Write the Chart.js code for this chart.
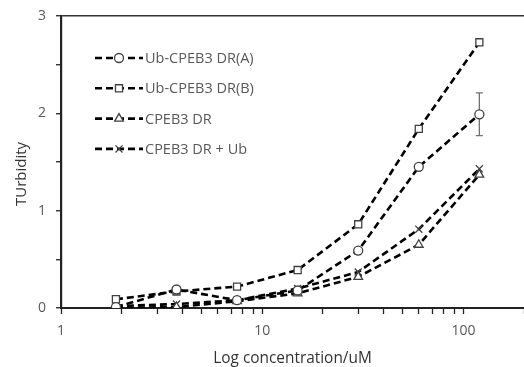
<!DOCTYPE html>
<html>
<head>
<meta charset="utf-8">
<script src="https://cdn.jsdelivr.net/npm/chart.js"></script>
<style>
  html, body { margin: 0; padding: 0; background: #fff; }
  canvas { display: block; }
</style>
</head>
<body>
<canvas id="turbidity" width="524" height="367"></canvas>
<script>
const concentrations = [1.875, 3.75, 7.5, 15, 30, 60, 120];
const seriesLabels = ["Ub-CPEB3 DR(A)", "Ub-CPEB3 DR(B)", "CPEB3 DR", "CPEB3 DR + Ub"];
const ubDrA = [0.01, 0.19, 0.08, 0.18, 0.59, 1.45, 1.99];
const ubDrB = [0.09, 0.17, 0.22, 0.39, 0.86, 1.84, 2.73];
const drOnly = [0.0, 0.01, 0.07, 0.15, 0.32, 0.65, 1.37];
const drPlusUb = [0.02, 0.04, 0.08, 0.2, 0.37, 0.81, 1.43];
const ubDrAError = [null, null, null, null, null, null, 0.22];
const xTicks = [1, 2, 3, 4, 5, 6, 7, 8, 9, 10, 20, 30, 40, 50, 60, 70, 80, 90, 100, 200];
const xTickLabels = { 1: "1", 10: "10", 100: "100" };
const yTickLabels = { 0: "0", 1: "1", 2: "2", 3: "3" };
const yTitle = "TUrbidity";

const FONT = "'Open Sans', sans-serif";
const GREY_TEXT = "#595959";
const pointStyles = ["circle", "rect", "triangle", "crossRot"];
const pointSizes = [4.5, 5, 5, 5];
const seriesData = [ubDrA, ubDrB, drOnly, drPlusUb];

const datasets = seriesData.map((values, i) => ({
  label: seriesLabels[i],
  data: concentrations.map((c, j) => ({ x: c, y: values[j] })),
  borderColor: "#000",
  borderWidth: 2.6,
  borderDash: [7, 4],
  tension: 0,
  pointStyle: pointStyles[i],
  pointRadius: pointSizes[i],
  pointBorderColor: "#404040",
  pointBorderWidth: 1.3,
  pointBackgroundColor: "#fff",
}));

// error bar on the top point of series A
const errorBars = {
  id: "errorBars",
  beforeDatasetsDraw(chart) {
    const { ctx, scales } = chart;
    ctx.save();
    ctx.strokeStyle = "#707070";
    ctx.lineWidth = 1.3;
    ubDrAError.forEach((err, i) => {
      if (err == null) return;
      const x = scales.x.getPixelForValue(concentrations[i]);
      const yTop = scales.y.getPixelForValue(ubDrA[i] + err);
      const yBot = scales.y.getPixelForValue(ubDrA[i] - err);
      ctx.beginPath();
      ctx.moveTo(x, yTop); ctx.lineTo(x, yBot);
      ctx.moveTo(x - 3.5, yTop); ctx.lineTo(x + 3.5, yTop);
      ctx.moveTo(x - 3.5, yBot); ctx.lineTo(x + 3.5, yBot);
      ctx.stroke();
    });
    ctx.restore();
  },
};

// legend inside the plot (top-left) and the y title, a bit below centre like the original
const extras = {
  id: "extras",
  afterDraw(chart) {
    const { ctx, chartArea } = chart;
    const x0 = 95, x1 = 143, top = 58, step = 30.3;
    ctx.save();
    chart.data.datasets.forEach((ds, i) => {
      const y = top + i * step;
      ctx.strokeStyle = "#000";
      ctx.lineWidth = 2.6;
      ctx.setLineDash([7, 4]);
      ctx.beginPath();
      ctx.moveTo(x0, y);
      ctx.lineTo(x1, y);
      ctx.stroke();
      ctx.setLineDash([]);
      ctx.fillStyle = "#fff";
      ctx.strokeStyle = "#404040";
      ctx.lineWidth = 1.3;
      Chart.helpers.drawPoint(ctx, { pointStyle: ds.pointStyle, radius: ds.pointRadius, rotation: 0, borderWidth: 1.3 }, (x0 + x1) / 2, y);
      ctx.fillStyle = GREY_TEXT;
      ctx.font = "14.5px " + FONT;
      ctx.textBaseline = "middle";
      ctx.fillText(ds.label, x1 + 2, y + 1);
    });

    ctx.translate(22, (chartArea.top + chartArea.bottom) / 2 + 12);
    ctx.rotate(-Math.PI / 2);
    ctx.fillStyle = "#333";
    ctx.font = "15px " + FONT;
    ctx.textAlign = "center";
    ctx.textBaseline = "middle";
    ctx.fillText(yTitle, 0, 0);
    ctx.restore();
  },
};

new Chart(document.getElementById("turbidity").getContext("2d"), {
  type: "line",
  data: { datasets },
  options: {
    responsive: false,
    animation: false,
    layout: { autoPadding: false, padding: { left: 0, right: 0, top: 16, bottom: 0 } },
    plugins: { legend: { display: false }, tooltip: { enabled: false } },
    scales: {
      x: {
        type: "logarithmic",
        min: 1,
        max: 200,
        afterBuildTicks: (scale) => { scale.ticks = xTicks.map((v) => ({ value: v })); },
        afterFit: (scale) => { scale.height = 59; },
        border: { color: "#222", width: 2 },
        grid: { drawOnChartArea: false, tickLength: 6, tickColor: "#222", tickWidth: 1.3 },
        ticks: {
          autoSkip: false,
          maxRotation: 0,
          color: GREY_TEXT,
          padding: 0,
          font: { family: FONT, size: 14, lineHeight: 2.4 },
          callback: (v) => xTickLabels[v] || "",
        },
        title: {
          display: true,
          text: "Log concentration/uM",
          color: "#333",
          font: { family: FONT, size: 15.4, lineHeight: 1.1 },
          padding: { top: 0, bottom: 0 },
        },
      },
      y: {
        min: 0,
        max: 3,
        afterFit: (scale) => { scale.width = 61; },
        border: { color: "#222", width: 2.2 },
        grid: {
          drawOnChartArea: true,
          color: (c) => (c.tick && c.tick.value === 3 ? "#333" : "rgba(0,0,0,0)"),
          lineWidth: 1.5,
          tickLength: 5,
          tickColor: "#222",
          tickWidth: 1.3,
        },
        ticks: {
          stepSize: 0.5,
          color: GREY_TEXT,
          padding: 10,
          font: { family: FONT, size: 14, lineHeight: 0.8 },
          callback: (v) => (yTickLabels[v] !== undefined ? yTickLabels[v] : ""),
        },
      },
    },
  },
  plugins: [errorBars, extras],
});
</script>
</body>
</html>
